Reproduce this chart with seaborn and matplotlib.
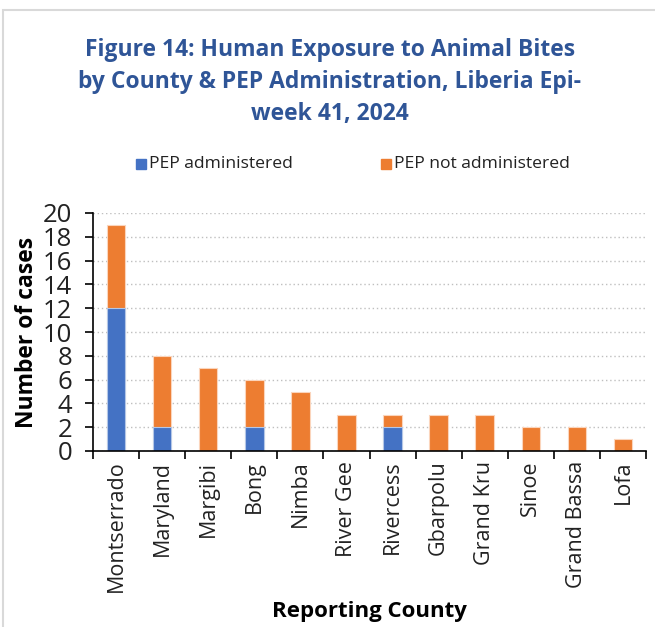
import matplotlib
matplotlib.use("Agg")
import matplotlib.pyplot as plt
import seaborn as sns
import pandas as pd
from matplotlib.patches import Rectangle
from matplotlib.ticker import MultipleLocator, FixedLocator

counties = ["Montserrado", "Maryland", "Margibi", "Bong", "Nimba", "River Gee",
            "Rivercess", "Gbarpolu", "Grand Kru", "Sinoe", "Grand Bassa", "Lofa"]
pep_administered = [12, 2, 0, 2, 0, 0, 2, 0, 0, 0, 0, 0]
pep_not_administered = [7, 6, 7, 4, 5, 3, 1, 3, 3, 2, 2, 1]

df = pd.DataFrame({
    "county": counties,
    "administered": pep_administered,
    "not_administered": pep_not_administered,
})
df["total"] = df["administered"] + df["not_administered"]

BLUE = "#4472C4"
ORANGE = "#ED7D31"
TITLE_BLUE = "#2F5597"

sns.set_theme(style="white")
plt.rcParams["font.family"] = ["Open Sans", "DejaVu Sans"]

fig = plt.figure(figsize=(6.55, 6.27), dpi=100)
fig.patches.append(Rectangle((3 / 655, -0.1), 1.2, 1 - 10 / 627 + 0.1,
                             transform=fig.transFigure, fill=False,
                             edgecolor="#D9D9D9", linewidth=1.5))

ax = fig.add_axes([93 / 655, 1 - 451 / 627, (646 - 93) / 655, (451 - 213) / 627])

# stacked bars: total (orange) underneath, administered (blue) drawn over it
sns.barplot(data=df, x="county", y="total", color=ORANGE, width=0.4,
            saturation=1, edgecolor="#FBD5BC", linewidth=0.8, ax=ax)
sns.barplot(data=df, x="county", y="administered", color=BLUE, width=0.4,
            saturation=1, edgecolor="#B4C7E7", linewidth=0.8, ax=ax)

ax.set_ylim(0, 20)
ax.set_xlim(-0.5, len(counties) - 0.5)
ax.yaxis.set_major_locator(MultipleLocator(2))
ax.grid(axis="y", linestyle=(0, (1, 2)), color="#BFBFBF", linewidth=1)
ax.set_axisbelow(True)

for side in ("top", "right"):
    ax.spines[side].set_visible(False)
for side in ("left", "bottom"):
    ax.spines[side].set_color("black")
    ax.spines[side].set_linewidth(1.2)

ax.tick_params(axis="y", which="major", left=True, length=6, width=1.2,
               color="black", labelsize=18.5, pad=9, labelcolor="#222222")
ax.tick_params(axis="x", which="major", length=0, labelsize=15.5, pad=7,
               labelcolor="#222222")
ax.xaxis.set_minor_locator(FixedLocator([i - 0.5 for i in range(len(counties) + 1)]))
ax.tick_params(axis="x", which="minor", bottom=True, length=6, width=1.2, color="black")
plt.setp(ax.get_xticklabels(), rotation=90)

ax.set_ylabel("Number of cases", fontsize=16.5, fontweight="bold", labelpad=3,
              color="black")
ax.set_xlabel("Reporting County", fontsize=16, fontweight="bold", labelpad=6,
              color="black")

fig.text(330 / 655, 1 - 82 / 627,
         "Figure 14: Human Exposure to Animal Bites\n"
         "by County & PEP Administration, Liberia Epi-\nweek 41, 2024",
         ha="center", va="center", fontsize=16.5, fontweight="bold",
         color=TITLE_BLUE, linespacing=1.45)

# legend row
leg_y = 1 - 164 / 627
for x0, col, label in [(136, BLUE, "PEP administered"),
                       (381, ORANGE, "PEP not administered")]:
    fig.patches.append(Rectangle((x0 / 655, leg_y - 5 / 627), 10 / 655, 10 / 627,
                                 transform=fig.transFigure, color=col))
    fig.text((x0 + 13) / 655, leg_y, label, ha="left", va="center",
             fontsize=12.6, color="#222222")

fig.savefig("out.png", dpi=100)
